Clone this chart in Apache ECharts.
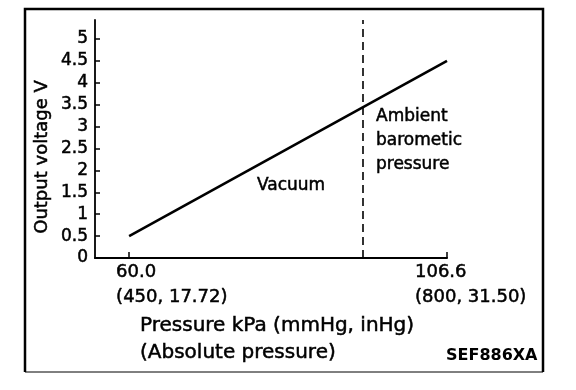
<!DOCTYPE html>
<html>
<head>
<meta charset="utf-8">
<script src="https://cdn.jsdelivr.net/npm/echarts@6/dist/echarts.min.js"></script>
<style>
html,body{margin:0;padding:0;background:#fff;}
#c{width:576px;height:390px;}
</style>
</head>
<body>
<div id="c"></div>
<script>
// ---- data ----
var pressureKPa = [60.0, 106.6];
var outputVoltage = [0.5, 4.5];
var ambientPressure = 94.3;
var yTickValues = [0, 0.5, 1, 1.5, 2, 2.5, 3, 3.5, 4, 4.5, 5];
var xTickValues = [60.0, 106.6];
var xTickLabels = ['60.0', '106.6'];
var xTickSubLabels = ['(450, 17.72)', '(800, 31.50)'];
var xTickLabelShift = [-13, -32];

var FONT = 'DejaVu Sans';
var chart = echarts.init(document.getElementById('c'), null, {renderer: 'canvas'});

var lineData = pressureKPa.map(function (p, i) { return [p, outputVoltage[i]]; });

chart.setOption({
  animation: false,
  backgroundColor: '#fff',
  grid: {left: 95, top: 20, width: 352, height: 238, containLabel: false},
  xAxis: {
    type: 'value', min: 55, max: 106.6,
    axisLine: {show: true, lineStyle: {color: '#000', width: 2}},
    axisTick: {show: true, inside: true, length: 6, customValues: xTickValues, lineStyle: {color: '#000', width: 1.5}},
    axisLabel: {show: false},
    splitLine: {show: false}
  },
  yAxis: {
    type: 'value', min: 0, max: 5.434,
    axisLine: {show: true, lineStyle: {color: '#000', width: 1.8}},
    axisTick: {show: true, inside: true, length: 5, customValues: yTickValues, lineStyle: {color: '#000', width: 1.5}},
    axisLabel: {show: true, customValues: yTickValues, margin: 7, color: '#000', fontFamily: FONT, fontSize: 17,
      textBorderColor: '#000', textBorderWidth: 0.5},
    splitLine: {show: false}
  },
  series: [{
    type: 'line',
    data: lineData,
    symbol: 'none',
    lineStyle: {color: '#000', width: 2.6},
    markLine: {
      silent: true,
      symbol: ['none', 'none'],
      label: {show: false},
      lineStyle: {color: '#000', type: [8, 5], width: 1.6},
      data: [{xAxis: ambientPressure}]
    }
  }]
});

function px(v) { return chart.convertToPixel({xAxisIndex: 0, yAxisIndex: 0}, [v, 0]); }
function txt(x, y, s, font, extra) {
  var st = {text: s, font: font, fill: '#000', stroke: '#000', lineWidth: 0.5, textAlign: 'left', textVerticalAlign: 'top'};
  for (var k in (extra || {})) st[k] = extra[k];
  return {type: 'text', x: x, y: y, style: st};
}
var gfx = [];
xTickValues.forEach(function (v, i) {
  var p = px(v);
  gfx.push(txt(p[0] + xTickLabelShift[i], 263, xTickLabels[i], '18px "' + FONT + '"'));
  gfx.push(txt(p[0] + xTickLabelShift[i], 288, xTickSubLabels[i], '18px "' + FONT + '"'));
});
gfx.push(txt(140, 316, 'Pressure kPa (mmHg, inHg)', '20px "' + FONT + '"'));
gfx.push(txt(140, 343, '(Absolute pressure)', '20px "' + FONT + '"'));
gfx.push(txt(446, 348, 'SEF886XA', 'bold 16px "' + FONT + '"', {lineWidth: 0}));
var yName = txt(42, 157, 'Output voltage V', '18px "' + FONT + '"', {textAlign: 'center', textVerticalAlign: 'middle'});
yName.rotation = Math.PI / 2;
gfx.push(yName);
gfx.push(txt(257, 177, 'Vacuum', '17px "' + FONT + '"'));
gfx.push(txt(376, 105, 'Ambient\nbarometic\npressure', '17px "' + FONT + '"', {lineHeight: 24}));
// frame
gfx.push({type: 'polyline', shape: {points: [[25, 372], [25, 9], [543, 9], [543, 372]]}, style: {stroke: '#000', lineWidth: 2.5, fill: null}});
gfx.push({type: 'line', shape: {x1: 25, y1: 372, x2: 543, y2: 372}, style: {stroke: '#000', lineWidth: 1}});
chart.setOption({graphic: gfx});
</script>
</body>
</html>
